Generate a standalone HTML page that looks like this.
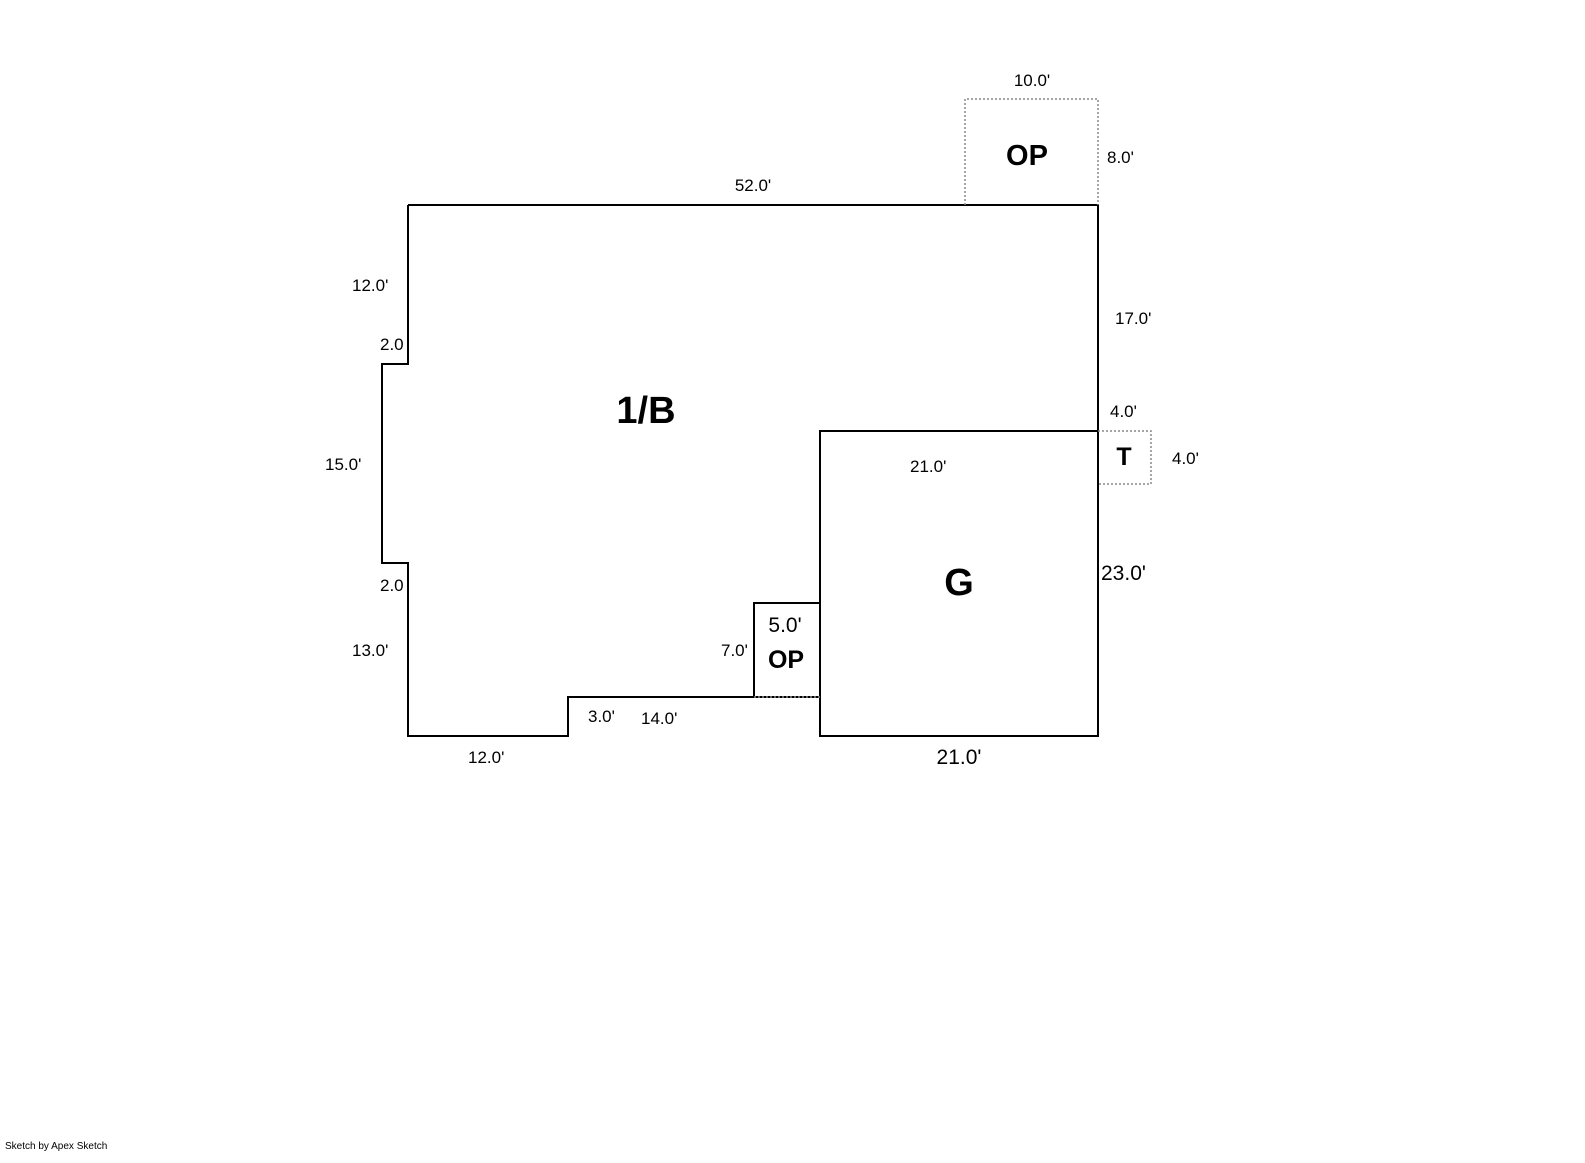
<!DOCTYPE html>
<html><head><meta charset="utf-8"><style>
html,body{margin:0;padding:0;background:#fff;}
svg{display:block;}
text{font-family:"Liberation Sans",Arial,sans-serif;fill:#000;}
</style></head><body>
<svg width="1585" height="1163" viewBox="0 0 1585 1163">
<rect width="1585" height="1163" fill="#fff"/>
<g fill="none" stroke="#000" stroke-width="2">
<polyline points="408,205 1098,205 1098,431 820,431 820,697 568,697 568,736 408,736 408,563 382,563 382,364 408,364 408,205"/>
<rect x="820" y="431" width="278" height="305"/>
<polyline points="754,697 754,603 820,603"/>
</g>
<g fill="none" stroke="#888" stroke-width="1.5" stroke-dasharray="2,2">
<polyline points="965,205 965,99 1098,99 1098,205"/>
<polyline points="1098,431 1151,431 1151,484 1098,484"/>
<line x1="754" y1="697" x2="820" y2="697"/>
</g>
<g font-size="17">
<text x="1032" y="86" text-anchor="middle">10.0'</text>
<text x="1107" y="163">8.0'</text>
<text x="753" y="191" text-anchor="middle">52.0'</text>
<text x="352" y="291">12.0'</text>
<text x="380" y="350">2.0</text>
<text x="1115" y="324">17.0'</text>
<text x="1110" y="417">4.0'</text>
<text x="1172" y="464">4.0'</text>
<text x="910" y="472">21.0'</text>
<text x="325" y="470">15.0'</text>
<text x="380" y="591">2.0</text>
<text x="352" y="656">13.0'</text>
<text x="721" y="656">7.0'</text>
<text x="588" y="722">3.0'</text>
<text x="641" y="724">14.0'</text>
<text x="468" y="763">12.0'</text>
</g>
<g font-size="21">
<text x="785" y="632" text-anchor="middle">5.0'</text>
<text x="1101" y="580">23.0'</text>
<text x="959" y="764" text-anchor="middle">21.0'</text>
</g>
<g font-weight="bold">
<text x="1027" y="165" font-size="29" text-anchor="middle">OP</text>
<text x="646" y="423" font-size="38" text-anchor="middle">1/B</text>
<text x="959" y="595" font-size="38" text-anchor="middle">G</text>
<text x="1124" y="465" font-size="25" text-anchor="middle">T</text>
<text x="786" y="668" font-size="25" text-anchor="middle">OP</text>
</g>
<text x="5" y="1149" font-size="10">Sketch by Apex Sketch</text>
</svg>
</body></html>
